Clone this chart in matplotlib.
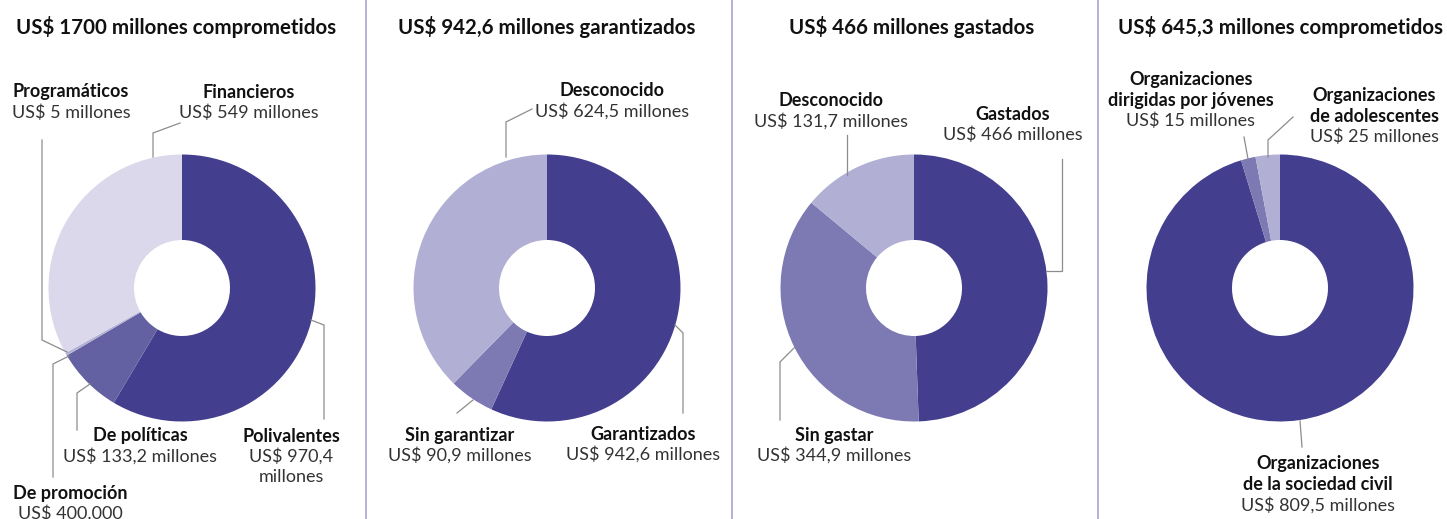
import matplotlib.pyplot as plt

W, H = 1447, 519

plt.rcParams['font.family'] = ['Lato', 'DejaVu Sans']

# data, one list per donut
titles = ['US$ 1700 millones comprometidos', 'US$ 942,6 millones garantizados',
          'US$ 466 millones gastados', 'US$ 645,3 millones comprometidos']

p1_names = ['Polivalentes', 'De políticas', 'De promoción', 'Programáticos', 'Financieros']
p1_values = [970.4, 133.2, 0.4, 5, 549]
p1_texts = ['US$ 970,4\nmillones', 'US$ 133,2 millones', 'US$ 400.000',
            'US$ 5 millones', 'US$ 549 millones']

p2_names = ['Garantizados', 'Sin garantizar', 'Desconocido']
p2_values = [942.6, 90.9, 624.5]
p2_texts = ['US$ 942,6 millones', 'US$ 90,9 millones', 'US$ 624,5 millones']

p3_names = ['Gastados', 'Sin gastar', 'Desconocido']
p3_values = [466, 344.9, 131.7]
p3_texts = ['US$ 466 millones', 'US$ 344,9 millones', 'US$ 131,7 millones']

p4_names = ['Organizaciones\nde la sociedad civil', 'Organizaciones\ndirigidas por jóvenes',
            'Organizaciones\nde adolescentes']
p4_values = [809.5, 15, 25]
p4_texts = ['US$ 809,5 millones', 'US$ 15 millones', 'US$ 25 millones']

DARK = '#433e8e'
MID = '#6461a2'
MID2 = '#7d7ab3'
LIGHT = '#b1afd3'
PALE = '#dad8ea'

panels = [
    dict(names=p1_names, values=p1_values, texts=p1_texts, cx=182, tx=176,
         colors=[DARK, MID, '#9c99c8', LIGHT, PALE],
         # label centre x, first line y, leader polyline (pixel coords)
         labels=[(291, 436, [(311, 320), (324, 325), (324, 419)]),
                 (140, 436, [(90, 384), (77, 393), (77, 430)]),
                 (70, 493, [(69, 356), (53, 364), (53, 477)]),
                 (71, 92, [(67, 352), (42, 340), (42, 140)]),
                 (249, 92, [(153, 157), (153, 133), (180, 123)])]),
    dict(names=p2_names, values=p2_values, texts=p2_texts, cx=547, tx=547,
         colors=[DARK, MID2, LIGHT],
         labels=[(643, 434, [(675, 325), (683, 333), (683, 413)]),
                 (460, 435, [(473, 400), (457, 413)]),
                 (612, 91, [(506, 157), (506, 122), (532, 109)])]),
    dict(names=p3_names, values=p3_values, texts=p3_texts, cx=914, tx=912,
         colors=[DARK, MID2, LIGHT],
         labels=[(1013, 114, [(1046, 271), (1062, 271), (1062, 159)]),
                 (834, 435, [(795, 347), (780, 362), (780, 420)]),
                 (831, 101, [(847, 175), (847, 135)])]),
    dict(names=p4_names, values=p4_values, texts=p4_texts, cx=1280, tx=1281,
         colors=[DARK, MID2, LIGHT],
         labels=[(1318, 464, [(1300, 421), (1302, 447)]),
                 (1191, 80, [(1248, 159), (1244, 137)]),
                 (1374, 96, [(1268, 157), (1268, 140), (1293, 117)])]),
]

CY = 288
R_OUT = 133.5
R_IN = 48
LINE = 20.5

fig = plt.figure(figsize=(W / 100, H / 100), dpi=100)
ax = fig.add_axes([0, 0, 1, 1])

for i, p in enumerate(panels):
    ax.pie(p['values'], colors=p['colors'], startangle=90, counterclock=False,
           center=(p['cx'], H - CY), radius=R_OUT,
           wedgeprops=dict(width=R_OUT - R_IN, linewidth=0))
    ax.text(p['tx'], H - 27, titles[i], ha='center', va='center',
            fontsize=14.8, fontweight='bold', color='#111111')
    for name, txt, (lx, ly, pts) in zip(p['names'], p['texts'], p['labels']):
        lines = [(s, 'bold') for s in name.split('\n')] + [(s, 'normal') for s in txt.split('\n')]
        for k, (s, wt) in enumerate(lines):
            ax.text(lx, H - (ly + k * LINE), s, ha='center', va='center', fontsize=13,
                    fontweight=wt, color='#111111' if wt == 'bold' else '#333333')
        ax.plot([q[0] for q in pts], [H - q[1] for q in pts], color='#8c8c8c', lw=0.9,
                solid_joinstyle='miter')

for x in [366, 732, 1098]:
    ax.plot([x, x], [0, H], color='#a5a2d3', lw=1.2)

ax.set_xlim(0, W)
ax.set_ylim(0, H)
ax.set_aspect('auto')
ax.axis('off')

fig.savefig('out.png', dpi=100)
